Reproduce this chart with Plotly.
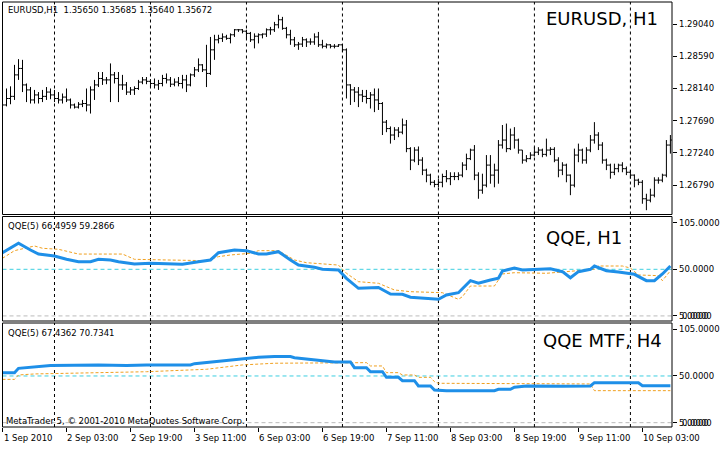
import plotly.graph_objects as go

# ---------------- data ----------------
opens = [1.2786,1.2791,1.2800,1.2803,1.2833,1.2842,1.2819,1.2812,1.2798,1.2805,
         1.2800,1.2803,1.2809,1.2805,1.2800,1.2798,1.2802,1.2798,1.2791,1.2788,
         1.2792,1.2793,1.2791,1.2812,1.2819,1.2828,1.2826,1.2826,1.2833,1.2828,
         1.2819,1.2819,1.2809,1.2812,1.2814,1.2823,1.2826,1.2824,1.2821,1.2819,
         1.2821,1.2828,1.2826,1.2820,1.2823,1.2821,1.2826,1.2819,1.2833,1.2840,
         1.2847,1.2840,1.2835,1.2868,1.2882,1.2884,1.2886,1.2884,1.2889,1.2896,
         1.2896,1.2894,1.2891,1.2882,1.2887,1.2889,1.2890,1.2896,1.2896,1.2903,
         1.2910,1.2898,1.2889,1.2882,1.2875,1.2876,1.2882,1.2879,1.2879,1.2886,
         1.2875,1.2873,1.2875,1.2873,1.2873,1.2875,1.2868,1.2819,1.2812,1.2809,
         1.2805,1.2803,1.2800,1.2805,1.2798,1.2793,1.2767,1.2758,1.2749,1.2756,
         1.2753,1.2763,1.2730,1.2714,1.2728,1.2714,1.2700,1.2693,1.2683,1.2680,
         1.2683,1.2691,1.2688,1.2691,1.2691,1.2693,1.2707,1.2716,1.2728,1.2693,
         1.2672,1.2679,1.2707,1.2693,1.2700,1.2735,1.2742,1.2730,1.2749,1.2742,
         1.2728,1.2714,1.2716,1.2721,1.2725,1.2728,1.2722,1.2728,1.2729,1.2714,
         1.2700,1.2707,1.2693,1.2679,1.2721,1.2728,1.2714,1.2728,1.2742,1.2749,
         1.2735,1.2714,1.2707,1.2697,1.2702,1.2707,1.2702,1.2697,1.2693,1.2686,
         1.2683,1.2660,1.2658,1.2665,1.2686,1.2686,1.2693,1.2735]
highs = [1.2798,1.2814,1.2817,1.2847,1.2855,1.2854,1.2821,1.2816,1.2812,1.2809,
         1.2812,1.2816,1.2814,1.2812,1.2809,1.2807,1.2814,1.2800,1.2793,1.2795,
         1.2798,1.2814,1.2817,1.2826,1.2837,1.2837,1.2830,1.2849,1.2837,1.2837,
         1.2833,1.2823,1.2816,1.2817,1.2826,1.2830,1.2830,1.2827,1.2828,1.2826,
         1.2833,1.2835,1.2830,1.2828,1.2830,1.2833,1.2833,1.2835,1.2844,1.2856,
         1.2848,1.2875,1.2886,1.2889,1.2889,1.2891,1.2889,1.2891,1.2897,1.2897,
         1.2897,1.2896,1.2893,1.2891,1.2891,1.2891,1.2898,1.2900,1.2907,1.2917,
         1.2914,1.2900,1.2896,1.2886,1.2879,1.2886,1.2884,1.2884,1.2891,1.2893,
         1.2882,1.2877,1.2876,1.2876,1.2876,1.2876,1.2870,1.2820,1.2816,1.2816,
         1.2812,1.2812,1.2809,1.2814,1.2814,1.2795,1.2770,1.2761,1.2760,1.2760,
         1.2772,1.2770,1.2732,1.2732,1.2733,1.2718,1.2702,1.2695,1.2686,1.2688,
         1.2695,1.2700,1.2697,1.2697,1.2697,1.2711,1.2723,1.2730,1.2735,1.2697,
         1.2695,1.2721,1.2721,1.2709,1.2742,1.2763,1.2765,1.2758,1.2760,1.2744,
         1.2728,1.2721,1.2725,1.2732,1.2732,1.2730,1.2744,1.2732,1.2732,1.2718,
         1.2711,1.2709,1.2694,1.2730,1.2737,1.2730,1.2732,1.2749,1.2767,1.2753,
         1.2739,1.2716,1.2709,1.2709,1.2709,1.2711,1.2705,1.2700,1.2694,1.2688,
         1.2686,1.2667,1.2674,1.2690,1.2690,1.2695,1.2742,1.2749]
lows =  [1.2784,1.2789,1.2792,1.2798,1.2826,1.2809,1.2795,1.2793,1.2793,1.2793,
         1.2795,1.2798,1.2799,1.2795,1.2793,1.2793,1.2795,1.2786,1.2786,1.2786,
         1.2788,1.2782,1.2779,1.2798,1.2816,1.2819,1.2820,1.2795,1.2821,1.2795,
         1.2812,1.2805,1.2805,1.2805,1.2812,1.2820,1.2820,1.2816,1.2814,1.2812,
         1.2817,1.2821,1.2816,1.2817,1.2817,1.2814,1.2809,1.2817,1.2830,1.2837,
         1.2837,1.2816,1.2833,1.2854,1.2877,1.2879,1.2882,1.2877,1.2886,1.2893,
         1.2891,1.2884,1.2879,1.2870,1.2877,1.2884,1.2886,1.2889,1.2893,1.2898,
         1.2896,1.2884,1.2875,1.2872,1.2868,1.2872,1.2872,1.2875,1.2875,1.2872,
         1.2870,1.2870,1.2870,1.2870,1.2872,1.2865,1.2800,1.2791,1.2795,1.2788,
         1.2795,1.2793,1.2786,1.2781,1.2784,1.2749,1.2753,1.2737,1.2742,1.2746,
         1.2750,1.2725,1.2700,1.2711,1.2707,1.2693,1.2683,1.2679,1.2676,1.2676,
         1.2676,1.2683,1.2679,1.2686,1.2686,1.2690,1.2700,1.2714,1.2686,1.2660,
         1.2667,1.2676,1.2681,1.2676,1.2681,1.2730,1.2725,1.2728,1.2730,1.2723,
         1.2709,1.2711,1.2715,1.2719,1.2721,1.2718,1.2719,1.2721,1.2711,1.2690,
         1.2693,1.2683,1.2665,1.2676,1.2711,1.2709,1.2709,1.2725,1.2737,1.2728,
         1.2709,1.2700,1.2688,1.2693,1.2697,1.2697,1.2693,1.2688,1.2676,1.2679,
         1.2653,1.2644,1.2655,1.2662,1.2681,1.2683,1.2690,1.2723]
closes = [1.2791,1.2800,1.2803,1.2833,1.2842,1.2819,1.2812,1.2798,1.2805,1.2800,
          1.2803,1.2809,1.2805,1.2800,1.2798,1.2802,1.2798,1.2791,1.2788,1.2792,
          1.2793,1.2791,1.2812,1.2819,1.2828,1.2826,1.2826,1.2833,1.2828,1.2819,
          1.2819,1.2809,1.2812,1.2814,1.2823,1.2826,1.2824,1.2821,1.2819,1.2821,
          1.2828,1.2826,1.2820,1.2823,1.2821,1.2826,1.2819,1.2833,1.2840,1.2847,
          1.2840,1.2835,1.2868,1.2882,1.2884,1.2886,1.2884,1.2889,1.2896,1.2896,
          1.2894,1.2891,1.2882,1.2887,1.2889,1.2890,1.2896,1.2896,1.2903,1.2910,
          1.2898,1.2889,1.2882,1.2875,1.2876,1.2882,1.2879,1.2879,1.2886,1.2875,
          1.2873,1.2875,1.2873,1.2873,1.2875,1.2868,1.2819,1.2812,1.2809,1.2805,
          1.2803,1.2800,1.2805,1.2798,1.2793,1.2767,1.2758,1.2749,1.2756,1.2753,
          1.2763,1.2730,1.2714,1.2728,1.2714,1.2700,1.2693,1.2683,1.2680,1.2683,
          1.2691,1.2688,1.2691,1.2691,1.2693,1.2707,1.2716,1.2728,1.2693,1.2672,
          1.2679,1.2707,1.2693,1.2700,1.2735,1.2742,1.2730,1.2749,1.2742,1.2728,
          1.2714,1.2716,1.2721,1.2725,1.2728,1.2722,1.2728,1.2729,1.2714,1.2700,
          1.2707,1.2693,1.2679,1.2721,1.2728,1.2714,1.2728,1.2742,1.2749,1.2735,
          1.2714,1.2707,1.2697,1.2702,1.2707,1.2702,1.2697,1.2693,1.2686,1.2683,
          1.2660,1.2658,1.2665,1.2686,1.2686,1.2693,1.2735,1.2742]
bar_idx = list(range(len(closes)))

qqe_h1_idx = [0,4,7,9,13,16,19,22,24,27,29,33,37,41,45,49,52,54,58,61,64,66,69,72,74,
              78,80,84,86,89,92,94,97,100,102,105,109,111,114,117,119,122,124,125,128,130,
              133,137,140,142,144,147,148,151,154,158,161,163,165,167]
qqe_h1_rsi = [69.6,80.7,72.8,68,65.7,61.8,59,59,61.8,61,59,56.3,57,56.3,55.9,59,61,69.6,72.8,72,
              68,68,70.8,61,55,52.4,50,49.2,39.4,27.6,28,28.5,20.9,20.5,17,15.8,14.6,19.7,22.4,36.6,
              33.5,37.4,39.4,48,51.5,49.2,49.8,50.7,47.2,40,47.2,50,53.9,48.3,46.8,44.1,36.6,36.6,
              44.5,53.9]
qqe_h1_tr_idx = [0,3,8,10,14,19,30,33,41,51,54,57,62,64,69,73,76,84,86,89,94,98,102,110,114,
                 115,117,123,125,128,136,141,148,149,155,157,159,164,165,167]
qqe_h1_tr = [63,72,77.5,74.8,73.6,68,68,61.8,61,60.2,64.9,66.9,68.9,72,72,61,57.8,55,45.3,35.4,
             33.5,25.6,23.6,22.4,14.6,17.7,30.3,30.3,44.5,46,45.3,47.2,50,53.9,53.9,51.5,43.3,42.5,
             36.6,48.3]

qqe_h4_idx = [0,3,4,8,12,24,31,36,47,48,52,56,60,64,68,72,73,76,80,83,87,88,91,92,95,96,99,100,
              103,104,107,108,111,123,124,127,128,131,140,144,147,148,159,160,167]
qqe_h4_rsi = [53.9,53.9,59,61,62.2,63,62.2,63,63,64.5,66.5,68.8,70.4,72,72.8,72.8,71.5,70,68,66.5,
              66.5,59.8,59.8,55,55,48.4,48.4,44.5,44.5,38.2,38.2,33.5,32.7,32.7,34.3,34.3,36.7,38.2,
              37.8,38.2,38.2,42.1,42.1,38.6,38.6]
qqe_h4_tr_idx = [0,3,4,8,24,36,51,56,60,68,87,89,91,92,95,96,99,100,103,104,107,108,109,147,148,167]
qqe_h4_tr = [46,46,51.2,52.4,53.9,55,57.9,61,63,65,65,65.7,65.7,61.8,61.8,53.9,53.9,51.2,51.2,
             48.4,48.4,43.3,41.4,40.6,32.7,32.7]

price_ticks = [1.29040, 1.28590, 1.28140, 1.27690, 1.27240, 1.26790]
price_tick_labels = ["1.29040", "1.28590", "1.28140", "1.27690", "1.27240", "1.26790"]
osc_ticks = [105, 50, -5]
osc_tick_labels = ["105.0000", "50.0000", "5.0000"]
day_start_idx = [13, 37, 61, 85, 109, 133, 157]
x_tick_idx = [0, 16, 32, 48, 64, 80, 96, 112, 128, 144, 160]
x_tick_labels = ["1 Sep 2010", "2 Sep 03:00", "2 Sep 19:00", "3 Sep 11:00", "6 Sep 03:00",
                 "6 Sep 19:00", "7 Sep 11:00", "8 Sep 03:00", "8 Sep 19:00", "9 Sep 11:00",
                 "10 Sep 03:00"]

# ---------------- figure ----------------
W, H = 725, 450
FONT = "DejaVu Sans"
BLUE = "#1E8FE8"
ORANGE = "#F0A020"
CYAN = "#3CCFE0"
GREY = "#BBBBBB"

def py(p):  # pixel y -> paper y
    return 1 - p / H

XL, XR = 2.5 / W, 672 / W
LABX = 677 / W
panes = [(2, 214.5), (216.5, 321), (323, 427)]

fig = go.Figure()
fig.add_trace(go.Ohlc(x=bar_idx, open=opens, high=highs, low=lows, close=closes,
                      increasing=dict(line=dict(color="black", width=1)),
                      decreasing=dict(line=dict(color="black", width=1)),
                      tickwidth=0.5, xaxis="x", yaxis="y", hoverinfo="skip"))
fig.add_trace(go.Scatter(x=qqe_h1_tr_idx, y=qqe_h1_tr, mode="lines",
                         line=dict(color=ORANGE, width=1, dash="3px,2px"), xaxis="x", yaxis="y2"))
fig.add_trace(go.Scatter(x=qqe_h1_idx, y=qqe_h1_rsi, mode="lines",
                         line=dict(color=BLUE, width=3), xaxis="x", yaxis="y2"))
fig.add_trace(go.Scatter(x=qqe_h4_tr_idx, y=qqe_h4_tr, mode="lines",
                         line=dict(color=ORANGE, width=1, dash="3px,2px"), xaxis="x", yaxis="y3"))
fig.add_trace(go.Scatter(x=qqe_h4_idx, y=qqe_h4_rsi, mode="lines",
                         line=dict(color=BLUE, width=3), xaxis="x", yaxis="y3"))

common_y = dict(side="right", anchor="x", showgrid=False, zeroline=False, showline=False,
                showticklabels=False, ticks="outside", ticklen=4, tickcolor="black",
                fixedrange=True)

shapes = []
for yref in ("y2", "y3"):
    shapes.append(dict(type="line", xref="paper", yref=yref, x0=XL, x1=XR, y0=50, y1=50,
                       line=dict(color=CYAN, width=1, dash="4px,3px"), layer="below"))
    shapes.append(dict(type="line", xref="paper", yref=yref, x0=XL, x1=XR, y0=-5, y1=-5,
                       line=dict(color=GREY, width=1, dash="4px,3px"), layer="below"))
for d in day_start_idx:
    for (t, b) in panes:
        shapes.append(dict(type="line", xref="x", yref="paper", x0=d, x1=d, y0=py(b), y1=py(t),
                           line=dict(color="black", width=1, dash="3px,3px"), layer="below"))
for (t, b) in panes:
    shapes.append(dict(type="rect", xref="paper", yref="paper", x0=XL, x1=XR, y0=py(b), y1=py(t),
                       line=dict(color="black", width=1), fillcolor="rgba(0,0,0,0)"))

small = dict(family=FONT, size=8.5, color="black")
big = dict(family=FONT, size=18, color="black")
ann = []
def txt(text, x, y, xref="paper", yref="paper", font=small, **kw):
    ann.append(dict(text=text, x=x, y=y, xref=xref, yref=yref, xanchor="left",
                    yanchor="middle", showarrow=False, font=font, **kw))

txt("EURUSD,H1\u00a0\u00a01.35650 1.35685 1.35640 1.35672", 6 / W, py(10))
txt("QQE(5) 66.4959 59.2866", 6 / W, py(226))
txt("QQE(5) 67.4362 70.7341", 6 / W, py(333))
txt("MetaTrader 5, \u00a9 2001-2010 MetaQuotes Software Corp.", 4 / W, py(420.5))
txt("EURUSD, H1", 544 / W, py(18), font=big)
txt("QQE, H1", 544 / W, py(238), font=big)
txt("QQE MTF, H4", 541 / W, py(340.5), font=big)
for i, lab in zip(x_tick_idx, x_tick_labels):
    txt(lab, i, py(438), xref="x", xshift=-1)
for v, lab in zip(price_ticks, price_tick_labels):
    txt(lab, LABX, v, yref="y")
for yref in ("y2", "y3"):
    for v, lab in zip(osc_ticks, osc_tick_labels):
        txt(lab, LABX, v, yref=yref)
    txt("0.0000", LABX, -5, yref=yref, xshift=3)

fig.update_layout(
    width=W, height=H, margin=dict(l=0, r=0, t=0, b=0),
    paper_bgcolor="white", plot_bgcolor="white", showlegend=False,
    xaxis=dict(domain=[XL, XR], range=[0.0, 167.4], anchor="y3", showgrid=False, zeroline=False,
               showline=False, showticklabels=False, ticks="outside", ticklen=4, tickcolor="black",
               tickvals=x_tick_idx, rangeslider=dict(visible=False), fixedrange=True),
    yaxis=dict(domain=[py(214.5), py(2)], range=[1.26380, 1.29348], tickvals=price_ticks, **common_y),
    yaxis2=dict(domain=[py(321), py(216.5)], range=[-11, 112.3], tickvals=osc_ticks, **common_y),
    yaxis3=dict(domain=[py(427), py(323)], range=[-10.1, 112.4], tickvals=osc_ticks, **common_y),
    shapes=shapes, annotations=ann,
)
fig.write_html("out.html", config={"displayModeBar": False},
               post_script="document.body.style.margin='0px';document.body.style.overflow='hidden';")
